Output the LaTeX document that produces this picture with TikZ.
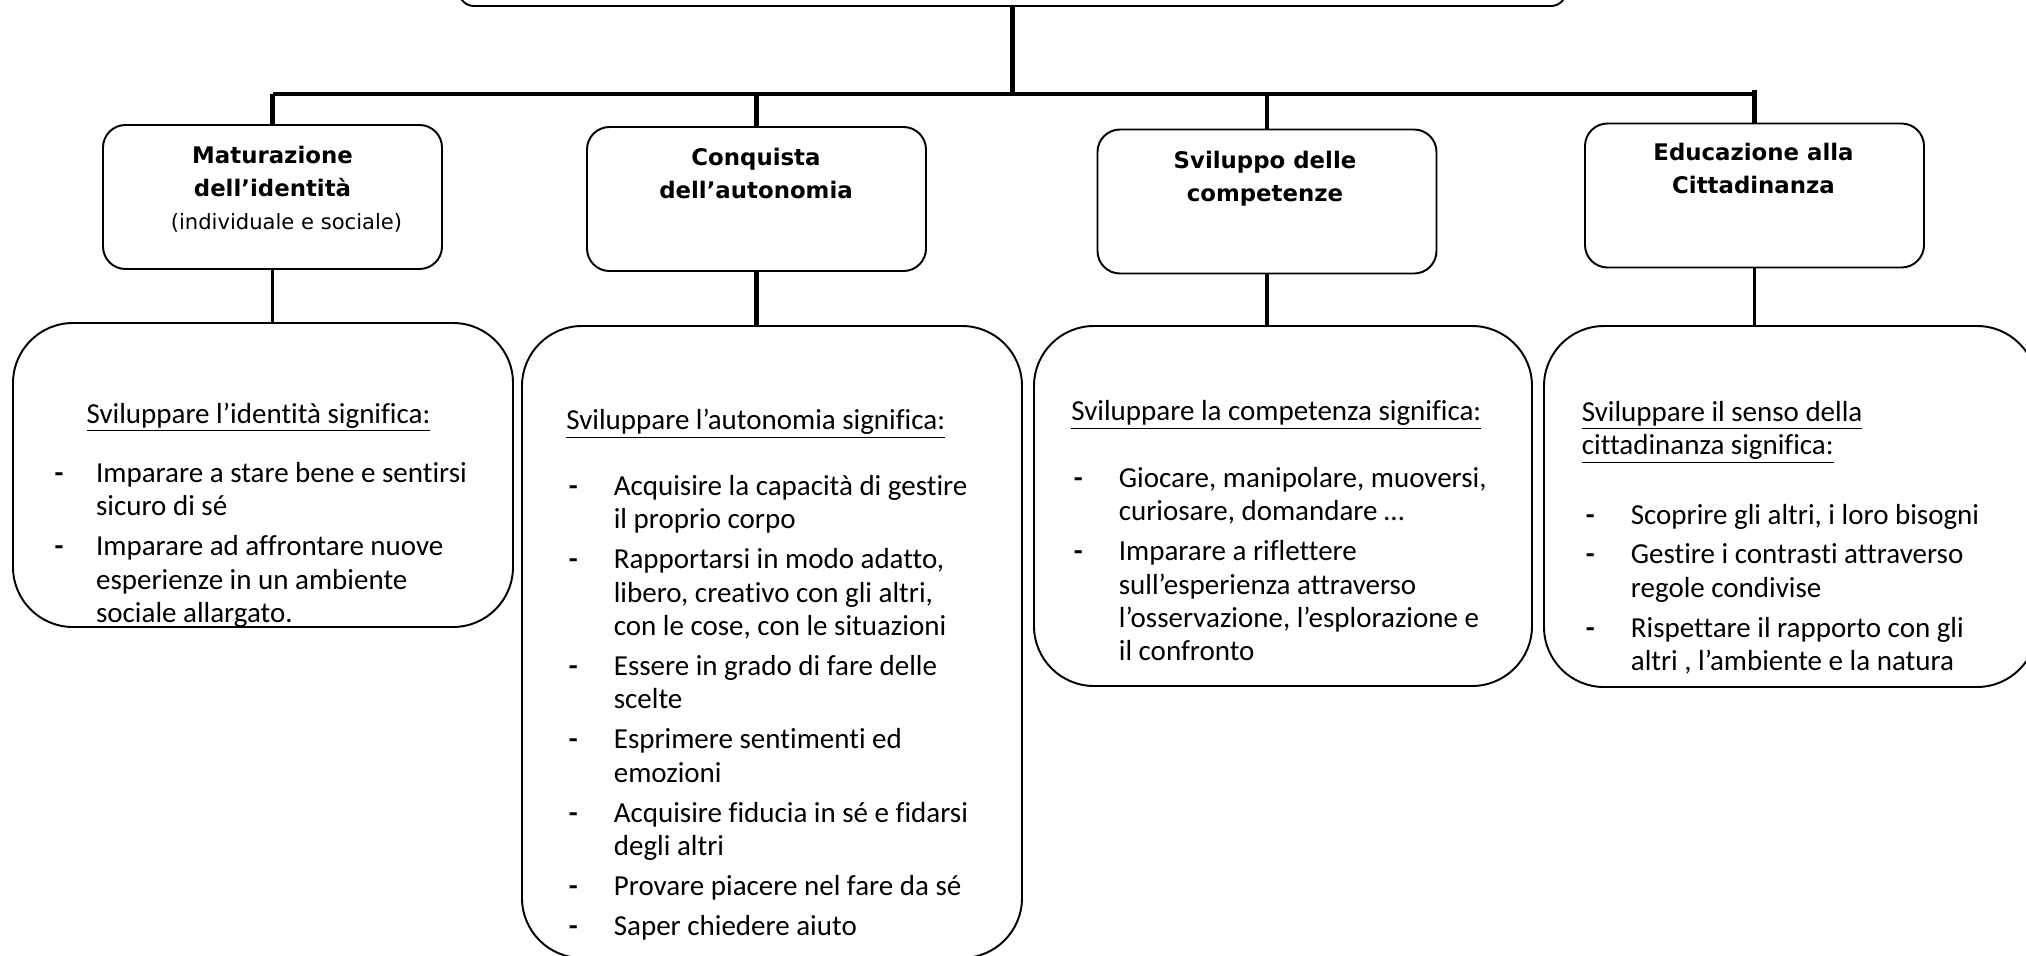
\documentclass[tikz,border=0pt]{standalone}
\usepackage{fontspec}
\setmainfont{Carlito}[Ligatures={TeX,NoCommon}]
\newfontfamily\titlefont{DejaVu Sans}
\usetikzlibrary{positioning}
\tikzset{
  topbox/.style = {draw, line width=1.1pt, rounded corners=0.3cm, minimum width=22.14cm, minimum height=2.4cm},
  headbox/.style = {draw, line width=1.1pt, rounded corners=0.45cm, minimum width=6.78cm, minimum height=2.88cm},
  bigbox/.style = {draw, line width=1.1pt, rounded corners=1.2cm, minimum width=10cm},
  bus/.style = {line width=2.4pt},
  stem/.style = {line width=1.7pt},
  headtext/.style = {inner sep=0, anchor=base, font=\titlefont\bfseries\fontsize{13}{19}\selectfont},
  bodytext/.style = {inner sep=0, anchor=base west, font=\fontsize{16.5}{19}\selectfont}
}
\newcommand{\voce}{\textbf{-}}

\begin{document}
\begin{tikzpicture}

  \useasboundingbox (0,0) rectangle (40.52,-19.10);
  \clip (0,0) rectangle (40.52,-19.10);

  %% Top box (cut by the page)
  \node[topbox] (top) at (20.25,1.08) {};

  % Bar
  \coordinate (barL) at (5.45,-1.88);
  \coordinate (barR) at (35.09,-1.88);
  \draw[bus] (barL) -- (barR);
  \draw[bus] (top.south) -- (top.south |- barL);

  %% Headers
  \node[headbox] (ident) at (5.45,-3.94) {};
  \node[headtext] (identtxt) at (5.45,-3.26) {\begin{tabular}[t]{@{}c@{}}Maturazione\\ dell’identità\\ {\mdseries\fontsize{12}{19}\selectfont\hspace*{0.56cm}(individuale e sociale)}\end{tabular}};

  \node[headbox] (auton) at (15.13,-3.98) {};
  \node[headtext] (autontxt) at (15.12,-3.31) {\begin{tabular}[t]{@{}c@{}}Conquista\\ dell’autonomia\end{tabular}};

  \node[headbox] (compet) at (25.34,-4.03) {};
  \node[headtext] (compettxt) at (25.30,-3.36) {\begin{tabular}[t]{@{}c@{}}Sviluppo delle\\ competenze\end{tabular}};

  \node[headbox] (citt) at (35.09,-3.91) {};
  \node[headtext] (citttxt) at (35.07,-3.21) {\begin{tabular}[t]{@{}c@{}}Educazione alla\\ Cittadinanza\end{tabular}};

  % Bar -> headers
  \draw[bus] (ident.north) -- (ident.north |- barL);
  \draw[bus] (auton.north) -- (auton.north |- barL);
  \draw[bus] (compet.north) -- (compet.north |- barL);
  \draw[bus] ([yshift=2pt]citt.north |- barR) -- (citt.north);

  %% Lower boxes
  \node[bigbox, minimum height=6.08cm] (identbox) at (5.26,-9.50) {};
  \node[bigbox, minimum height=12.64cm] (autonbox) at (15.44,-12.84) {};
  \node[bigbox, minimum width=9.96cm, minimum height=7.2cm] (competbox) at (25.66,-10.12) {};
  \node[bigbox, minimum width=9.86cm, minimum height=7.22cm] (cittbox) at (35.81,-10.13) {};

  % Headers -> lower boxes
  \draw[stem] (ident.south) -- (ident.south |- identbox.north);
  \draw[bus] (auton.south) -- (auton.south |- autonbox.north);
  \draw[bus] (compet.south) -- (compet.south |- competbox.north);
  \draw[stem] (citt.south) -- (citt.south |- cittbox.north);

  % Identity
  \node[bodytext, anchor=base] (identtit) at (5.17,-8.46) {\underline{Sviluppare l’identità significa:}};
  \node[bodytext] (identlist) at (1.085,-9.65) {\begin{tabular}[t]{@{}p{0.83cm}@{}l@{}}
    \voce & Imparare a stare bene e sentirsi\\
          & sicuro di sé\\[3.7pt]
    \voce & Imparare ad affrontare nuove\\
          & esperienze in un ambiente\\
          & sociale allargato.
  \end{tabular}};

  % Autonomy
  \node[bodytext] (autontit) at (11.32,-8.59) {\underline{Sviluppare l’autonomia significa:}};
  \node[bodytext] (autonlist) at (11.37,-9.91) {\begin{tabular}[t]{@{}p{0.9cm}@{}l@{}}
    \voce & Acquisire la capacità di gestire\\
          & il proprio corpo\\[3.7pt]
    \voce & Rapportarsi in modo adatto,\\
          & libero, creativo con gli altri,\\
          & con le cose, con le situazioni\\[3.7pt]
    \voce & Essere in grado di fare delle\\
          & scelte\\[3.7pt]
    \voce & Esprimere sentimenti ed\\
          & emozioni\\[3.7pt]
    \voce & Acquisire fiducia in sé e fidarsi\\
          & degli altri\\[3.7pt]
    \voce & Provare piacere nel fare da sé\\[3.7pt]
    \voce & Saper chiedere aiuto
  \end{tabular}};

  % Competence
  \node[bodytext] (compettit) at (21.42,-8.41) {\underline{Sviluppare la competenza significa:}};
  \node[bodytext] (competlist) at (21.47,-9.75) {\begin{tabular}[t]{@{}p{0.9cm}@{}l@{}}
    \voce & Giocare, manipolare, muoversi,\\
          & curiosare, domandare …\\[3.7pt]
    \voce & Imparare a riflettere\\
          & sull’esperienza attraverso\\
          & l’osservazione, l’esplorazione e\\
          & il confronto
  \end{tabular}};

  % Citizenship
  \node[bodytext] (citttit) at (31.63,-8.43) {\begin{tabular}[t]{@{}l@{}}\underline{Sviluppare il senso della}\\ \underline{cittadinanza significa:}\end{tabular}};
  \node[bodytext] (cittlist) at (31.71,-10.48) {\begin{tabular}[t]{@{}p{0.9cm}@{}l@{}}
    \voce & Scoprire gli altri, i loro bisogni\\[3.7pt]
    \voce & Gestire i contrasti attraverso\\
          & regole condivise\\[3.7pt]
    \voce & Rispettare il rapporto con gli\\
          & altri , l’ambiente e la natura
  \end{tabular}};

\end{tikzpicture}
\end{document}
